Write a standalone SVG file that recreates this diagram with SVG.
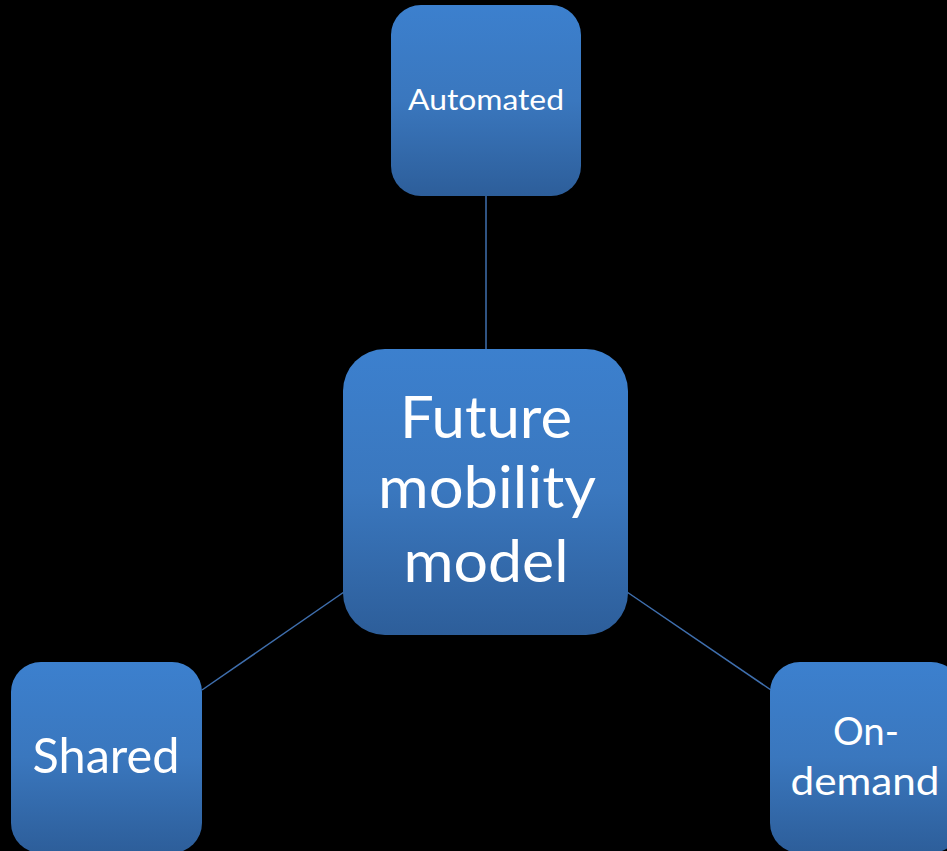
<svg xmlns="http://www.w3.org/2000/svg" width="947" height="851" viewBox="0 0 947 851">
<defs>
<linearGradient id="g" x1="0" y1="0" x2="0" y2="1">
<stop offset="0" stop-color="#3c80ce"/>
<stop offset="0.5" stop-color="#3a77be"/>
<stop offset="1" stop-color="#2d5e9a"/>
</linearGradient>
<style>
.box{fill:url(#g);}
.t{fill:#ffffff;font-family:Lato,"Open Sans",sans-serif;text-anchor:middle;}
.c{stroke:#3f6fae;stroke-width:1.5;fill:none;}
</style>
</defs>
<rect width="947" height="851" fill="#000000"/>
<g id="connectors">
<line class="c" x1="486" y1="196" x2="486" y2="350"/>
<line class="c" x1="202" y1="690" x2="344" y2="592"/>
<line class="c" x1="627" y1="592" x2="771" y2="690"/>
</g>
<g id="automated">
<rect class="box" x="391" y="5" width="190" height="191" rx="30"/>
<text class="t" x="486" y="110" font-size="29" textLength="156" lengthAdjust="spacingAndGlyphs">Automated</text>
</g>
<g id="center">
<rect class="box" x="343" y="349" width="285" height="286" rx="42"/>
<text class="t" x="486" y="438" font-size="58" textLength="172" lengthAdjust="spacingAndGlyphs">Future</text>
<text class="t" x="487" y="508" font-size="58" textLength="218" lengthAdjust="spacingAndGlyphs">mobility</text>
<text class="t" x="486" y="582" font-size="58" textLength="165" lengthAdjust="spacingAndGlyphs">model</text>
</g>
<g id="shared">
<rect class="box" x="11" y="662" width="191" height="191" rx="30"/>
<text class="t" x="106" y="773" font-size="49" textLength="147" lengthAdjust="spacingAndGlyphs">Shared</text>
</g>
<g id="ondemand">
<rect class="box" x="770" y="662" width="191" height="191" rx="30"/>
<text class="t" x="866" y="745" font-size="38" textLength="66" lengthAdjust="spacingAndGlyphs">On-</text>
<text class="t" x="865" y="795" font-size="38" textLength="149" lengthAdjust="spacingAndGlyphs">demand</text>
</g>
</svg>
